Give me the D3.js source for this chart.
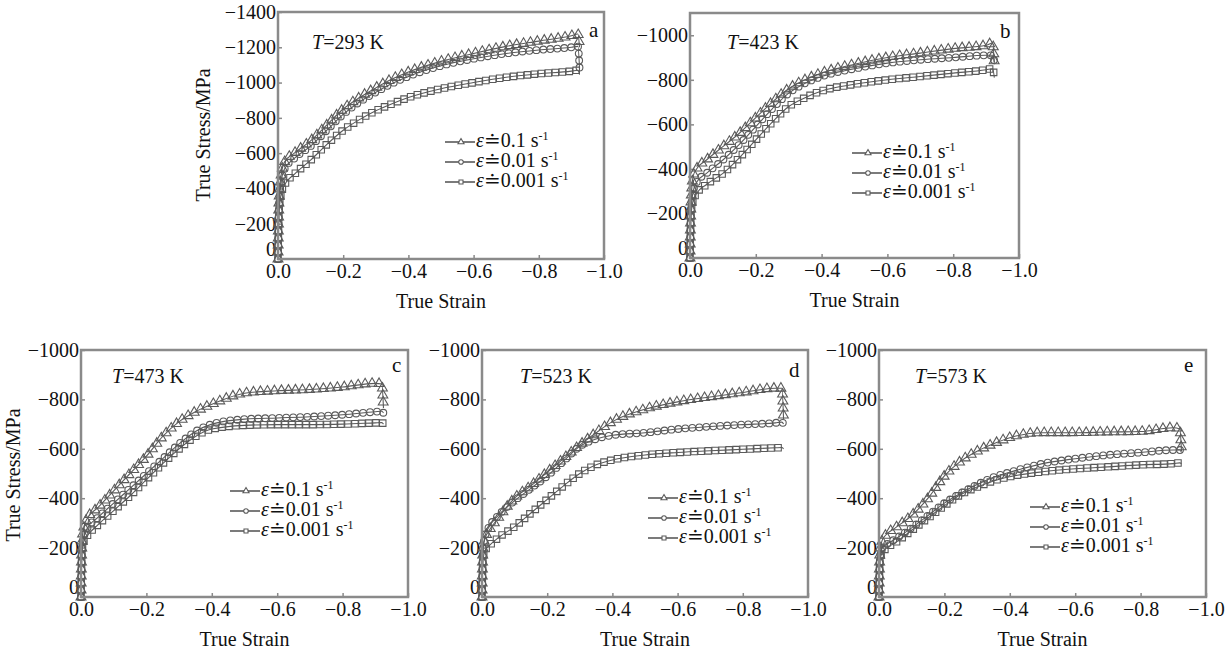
<!DOCTYPE html>
<html>
<head>
<meta charset="utf-8">
<script src="https://cdn.jsdelivr.net/npm/d3@7"></script>
<style>
  body { margin: 0; background: #fff; }
  svg { display: block; }
  text { font-family: "Liberation Serif", "Times New Roman", "DejaVu Serif", serif; fill: #111; }
</style>
</head>
<body>
<svg id="chart" width="1229" height="655"></svg>
<script>
// strain grid shared by every curve (compression, so negative)
let strain = [0, -0.003, -0.01, -0.02, -0.05, -0.1, -0.15, -0.2, -0.25, -0.3, -0.35, -0.4, -0.5, -0.6, -0.7, -0.8, -0.9, -0.92]
let endStrain = -0.925

let rates = ["0.1", "0.01", "0.001"]
let temps = [293, 423, 473, 523, 573]
let letters = ["a", "b", "c", "d", "e"]
let yLimits = [-1400, -1100, -1000, -1000, -1000]
let yTicks = [
  [0, -200, -400, -600, -800, -1000, -1200, -1400],
  [0, -200, -400, -600, -800, -1000],
  [0, -200, -400, -600, -800, -1000],
  [0, -200, -400, -600, -800, -1000],
  [0, -200, -400, -600, -800, -1000]
]
let xTicks = [0, -0.2, -0.4, -0.6, -0.8, -1.0]

// true stress (MPa), one array per temperature and strain rate
let s293_01   = [0, -330, -480, -550, -600, -670, -760, -850, -915, -970, -1020, -1060, -1120, -1165, -1205, -1235, -1265, -1275]
let s293_001  = [0, -300, -440, -510, -570, -640, -730, -820, -890, -945, -995, -1035, -1095, -1135, -1165, -1185, -1200, -1205]
let s293_0001 = [0, -260, -370, -420, -480, -560, -650, -730, -790, -840, -880, -915, -965, -1000, -1030, -1050, -1065, -1070]
let end293 = [-1200, -1080, -1045]

let s423_01   = [0, -250, -370, -400, -440, -500, -560, -630, -700, -760, -800, -830, -870, -900, -920, -940, -955, -965]
let s423_001  = [0, -220, -300, -340, -380, -440, -510, -590, -670, -740, -785, -815, -850, -875, -890, -900, -910, -910]
let s423_0001 = [0, -190, -260, -290, -330, -380, -450, -530, -610, -680, -720, -750, -780, -800, -815, -830, -845, -850]
let end423 = [-870, -880, -810]

let s473_01   = [0, -230, -290, -320, -360, -430, -500, -570, -650, -710, -750, -780, -825, -835, -840, -850, -865, -862]
let s473_001  = [0, -200, -250, -280, -320, -380, -440, -500, -560, -620, -670, -700, -720, -725, -730, -738, -750, -752]
let s473_0001 = [0, -180, -230, -250, -290, -350, -410, -475, -540, -600, -650, -680, -695, -698, -698, -700, -705, -706]
let end473 = [-765, -745, -700]

let s523_01   = [0, -200, -240, -265, -320, -400, -450, -505, -560, -615, -665, -710, -760, -790, -810, -828, -845, -845]
let s523_001  = [0, -190, -250, -280, -330, -390, -440, -490, -550, -610, -640, -655, -665, -680, -690, -698, -705, -708]
let s523_0001 = [0, -150, -190, -205, -240, -285, -340, -395, -450, -500, -535, -555, -575, -585, -592, -598, -604, -605]
let end523 = [-720, -700, -600]

let s573_01   = [0, -190, -230, -250, -280, -330, -400, -490, -550, -590, -620, -645, -665, -665, -668, -670, -685, -680]
let s573_001  = [0, -160, -200, -210, -235, -280, -330, -380, -420, -455, -485, -505, -540, -560, -575, -585, -595, -595]
let s573_0001 = [0, -150, -180, -195, -220, -270, -320, -370, -415, -445, -470, -487, -507, -519, -527, -535, -540, -543]
let end573 = [-590, -585, -540]

let stress = [
  [s293_01, s293_001, s293_0001],
  [s423_01, s423_001, s423_0001],
  [s473_01, s473_001, s473_0001],
  [s523_01, s523_001, s523_0001],
  [s573_01, s573_001, s573_0001]
]
let ends = [end293, end423, end473, end523, end573]

// layout of each panel: frame [left, top, right, bottom], legend, labels
let layout = [
  { box: [278, 12, 604, 259], legend: [445, 147], temp: [312, 49], letter: [589, 37], yTitle: [210, 135] },
  { box: [690, 13, 1019, 258], legend: [852, 158], temp: [727, 49], letter: [1000, 38], yTitle: null },
  { box: [81, 350, 408, 597], legend: [230, 496], temp: [112, 383], letter: [392, 372], yTitle: [20, 475] },
  { box: [482, 350, 808, 597], legend: [648, 503], temp: [520, 383], letter: [789, 377], yTitle: null },
  { box: [879, 350, 1206, 597], legend: [1030, 512], temp: [915, 383], letter: [1184, 372], yTitle: null }
]

let symbols = [d3.symbolTriangle, d3.symbolCircle, d3.symbolSquare]
let symSize = [42, 36, 42]
let ink = "#5a5a5a"
let frameColor = "#8a8a8a"

let svg = d3.select("#chart")

temps.forEach((T, p) => {
  let L = layout[p]
  let [x0, y0, x1, y1] = L.box
  let x = d3.scaleLinear().domain([0, -1]).range([x0, x1])
  let y = d3.scaleLinear().domain([0, yLimits[p]]).range([y1, y0])

  let g = svg.append("g")

  // axes (ticks point inward)
  let ya = g.append("g")
    .attr("transform", `translate(${x0},0)`)
    .call(d3.axisLeft(y).tickValues(yTicks[p]).tickSize(-4).tickPadding(2).tickFormat(d3.format("d")))
  let xa = g.append("g")
    .attr("transform", `translate(0,${y1})`)
    .call(d3.axisBottom(x).tickValues(xTicks).tickSize(-4).tickPadding(5).tickFormat(d3.format(".1f")))
  ;[ya, xa].forEach(a => {
    a.select(".domain").remove()
    a.selectAll("line").attr("stroke", frameColor).attr("stroke-width", 1.5)
    a.selectAll("text").style("font-size", "20px").attr("fill", "#111")
  })
  // the "0" of the stress axis sits just above the "0.0" of the strain axis
  ya.selectAll(".tick").filter(d => d === 0).select("text").attr("dy", "-0.2em")

  // curves
  let line = d3.line()
    .x(d => x(d[0]))
    .y(d => y(d[1]))
    .curve(d3.curveMonotoneX)

  stress[p].forEach((vals, k) => {
    let pts = strain.map((s, i) => [s, vals[i]])
    pts.push([endStrain, ends[p][k]])
    let path = g.append("path")
      .datum(pts)
      .attr("d", line)
      .attr("fill", "none")
      .attr("stroke", ink)
      .attr("stroke-width", 1.1)

    // dense hollow markers spaced along the drawn curve
    let node = path.node()
    let total = node.getTotalLength()
    let marks = []
    for (let s = 0; s <= total; s += 7) marks.push(node.getPointAtLength(s))
    g.append("g").selectAll("path")
      .data(marks)
      .join("path")
      .attr("transform", d => `translate(${d.x},${d.y})`)
      .attr("d", d3.symbol().type(symbols[k]).size(symSize[k]))
      .attr("fill", "none")
      .attr("stroke", ink)
      .attr("stroke-width", 1.1)
  })

  // frame
  g.append("rect")
    .attr("x", x0).attr("y", y0)
    .attr("width", x1 - x0).attr("height", y1 - y0)
    .attr("fill", "none")
    .attr("stroke", frameColor)
    .attr("stroke-width", 2.5)

  // temperature label
  let t = g.append("text")
    .attr("x", L.temp[0]).attr("y", L.temp[1])
    .style("font-size", "20px")
  t.append("tspan").style("font-style", "italic").text("T")
  t.append("tspan").text("=" + T + " K")

  // panel letter
  g.append("text")
    .attr("x", L.letter[0]).attr("y", L.letter[1])
    .style("font-size", "21px")
    .text(letters[p])

  // legend
  rates.forEach((r, k) => {
    let lx = L.legend[0], ly = L.legend[1] + k * 20
    g.append("line")
      .attr("x1", lx).attr("x2", lx + 30)
      .attr("y1", ly - 5).attr("y2", ly - 5)
      .attr("stroke", ink).attr("stroke-width", 1.6)
    g.append("path")
      .attr("transform", `translate(${lx + 16},${ly - 5})`)
      .attr("d", d3.symbol().type(symbols[k]).size(16))
      .attr("fill", "#fff")
      .attr("stroke", ink)
      .attr("stroke-width", 1.1)
    let tx = g.append("text")
      .attr("x", lx + 31).attr("y", ly)
      .style("font-size", "20px")
    tx.append("tspan").style("font-style", "italic").text("ε")
    tx.append("tspan").text("≐" + r + " s")
    tx.append("tspan").attr("dy", -7).style("font-size", "12px").text("-1")
  })

  // axis titles
  g.append("text")
    .attr("x", (x0 + x1) / 2).attr("y", y1 + 49)
    .attr("text-anchor", "middle")
    .style("font-size", "20px")
    .text("True Strain")
  if (L.yTitle) {
    g.append("text")
      .attr("transform", `translate(${L.yTitle[0]},${L.yTitle[1]}) rotate(-90)`)
      .attr("text-anchor", "middle")
      .style("font-size", "20px")
      .text("True Stress/MPa")
  }
})
</script>
</body>
</html>
